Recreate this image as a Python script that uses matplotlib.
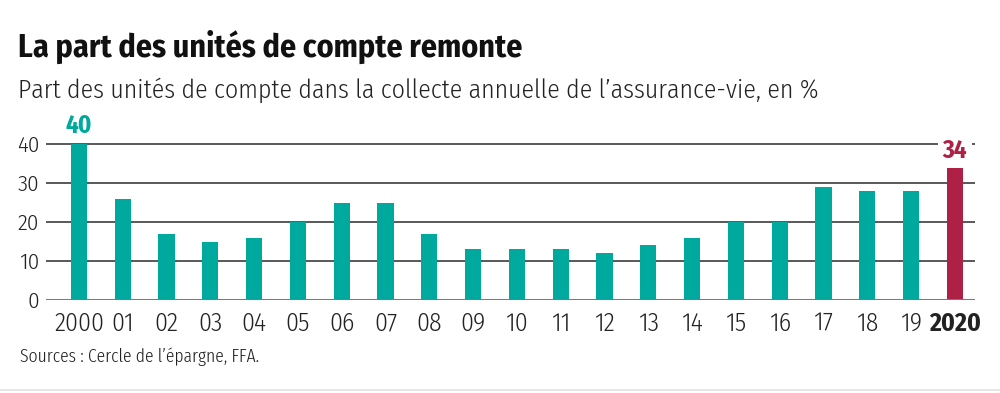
import matplotlib
matplotlib.use("Agg")
import matplotlib.pyplot as plt
from matplotlib.lines import Line2D

years = ["2000", "01", "02", "03", "04", "05", "06", "07", "08", "09", "10",
         "11", "12", "13", "14", "15", "16", "17", "18", "19", "2020"]
values = [40, 26, 17, 15, 16, 20, 25, 25, 17, 13, 13, 13, 12, 14, 16, 20, 20, 29, 28, 28, 34]
yticks = [0, 10, 20, 30, 40]

title = "La part des unités de compte remonte"
subtitle = "Part des unités de compte dans la collecte annuelle de l\u2019assurance-vie, en %"
source = "Sources : Cercle de l\u2019épargne, FFA."

TEAL = "#00a99d"
RED = "#ae2046"
FONT = ["Fira Sans Condensed", "Roboto", "DejaVu Sans"]
FONT_XC = ["Fira Sans Extra Condensed", "Fira Sans Condensed", "Roboto", "DejaVu Sans"]

fig = plt.figure(figsize=(10, 3.93), dpi=100)
ax = fig.add_axes([0.046, 0.2366, 0.929, 0.4763])

x = list(range(len(years)))
colors = [TEAL] * (len(years) - 1) + [RED]
ax.bar(x, values, width=0.37, color=colors, zorder=3)

ax.set_xlim(-0.753, 20.46)
ax.set_ylim(0, 48)
for s in ax.spines.values():
    s.set_visible(False)
ax.set_yticks(yticks)
ax.set_yticklabels([str(t) for t in yticks], family=FONT, fontweight=300,
                   fontsize=16.5, color="#222222")
ax.set_xticks(x)
ax.set_xticklabels(years, family=FONT, fontweight=300, fontsize=18.5, color="#222222")
ax.get_xticklabels()[-1].set_fontweight("bold")
ax.tick_params(axis="both", length=0)
ax.tick_params(axis="y", pad=5)
ax.tick_params(axis="x", pad=8)
for t in yticks[1:]:
    ax.axhline(t, color="#2b2b2b", lw=1.1, zorder=1)
ax.axhline(0, color="#7a7a7a", lw=2.2, zorder=4)

# value labels for first and last bars
ax.text(x[0], values[0] + 1.4, str(values[0]), ha="center", va="bottom",
        family=FONT, fontweight="bold", fontsize=18, color=TEAL)
ax.text(x[-1], values[-1] + 1.1, str(values[-1]), ha="center", va="bottom",
        family=FONT, fontweight="bold", fontsize=18, color=RED, zorder=5,
        bbox=dict(boxstyle="square,pad=0.2", fc="white", ec="none"))

fig.text(0.018, 0.855, title, family=FONT, fontweight="bold", fontsize=23,
         color="#111111", va="baseline")
fig.text(0.018, 0.752, subtitle, family=FONT, fontweight=300, fontsize=18.6,
         color="#222222", va="baseline")
fig.text(0.020, 0.079, source, family=FONT_XC, fontweight=300, fontsize=13.8,
         color="#222222", va="baseline")

fig.add_artist(Line2D([0, 1], [0.008, 0.008], transform=fig.transFigure,
                      color="#e2e2e2", lw=1.2))

fig.savefig("out.png", dpi=100, facecolor="white")
